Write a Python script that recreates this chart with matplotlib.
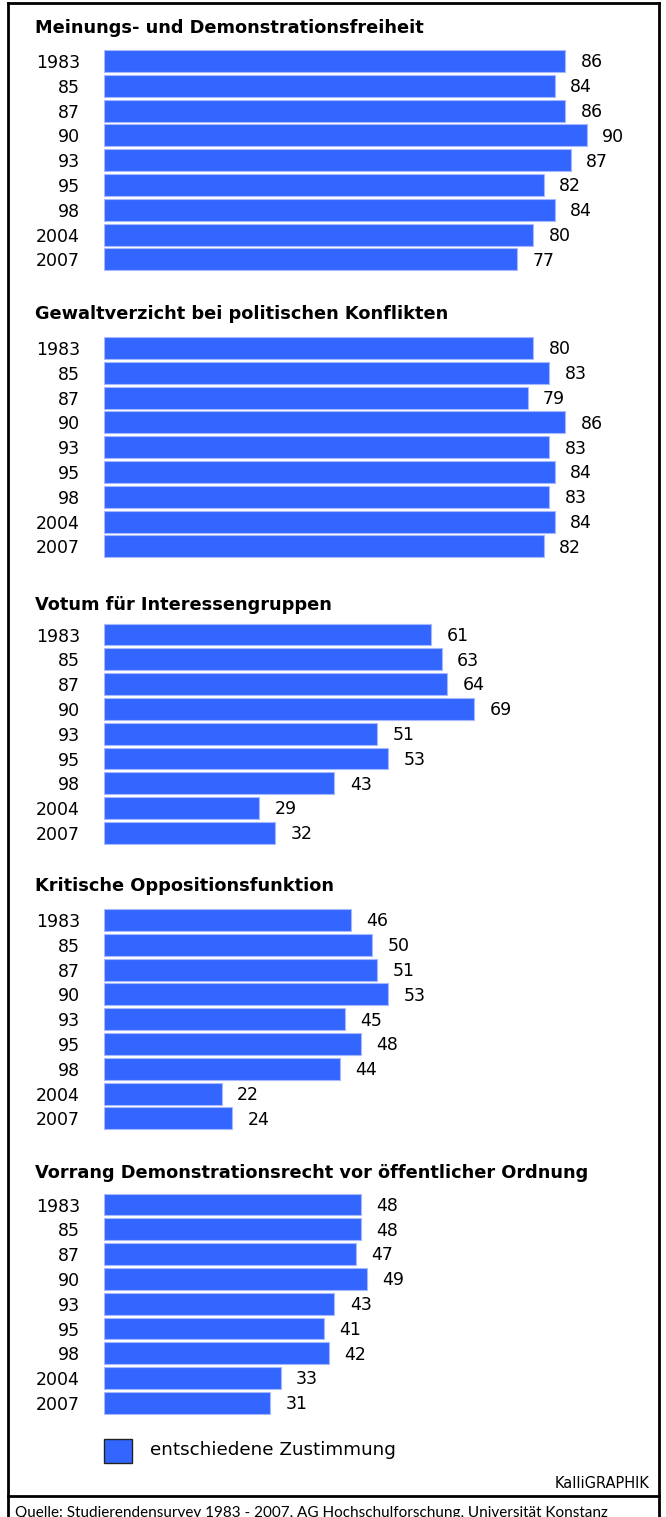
import matplotlib
matplotlib.use("Agg")
import matplotlib.pyplot as plt
from matplotlib.patches import Rectangle
from matplotlib.lines import Line2D

# Daten #############################################################################
jahre = ["1983", "85", "87", "90", "93", "95", "98", "2004", "2007"]

titel = [
    "Meinungs- und Demonstrationsfreiheit",
    "Gewaltverzicht bei politischen Konflikten",
    "Votum für Interessengruppen",
    "Kritische Oppositionsfunktion",
    "Vorrang Demonstrationsrecht vor öffentlicher Ordnung",
]

meinungsfreiheit = [86, 84, 86, 90, 87, 82, 84, 80, 77]
gewaltverzicht = [80, 83, 79, 86, 83, 84, 83, 84, 82]
interessengruppen = [61, 63, 64, 69, 51, 53, 43, 29, 32]
opposition = [46, 50, 51, 53, 45, 48, 44, 22, 24]
demonstrationsrecht = [48, 48, 47, 49, 43, 41, 42, 33, 31]

serien = [meinungsfreiheit, gewaltverzicht, interessengruppen, opposition, demonstrationsrecht]

legende = "entschiedene Zustimmung"
signatur = "KalliGRAPHIK"
quelle = "Quelle: Studierendensurvey 1983 - 2007, AG Hochschulforschung, Universität Konstanz"

# Layout (Pixel) ####################################################################
W, H = 666, 1517
BLAU = "#3366ff"
RAND = "#a8b8ff"
FONT = "DejaVu Sans"

erste_balken = [61, 348, 634.5, 920, 1204.5]   # Mitte des ersten Balkens
titel_y = [28, 314, 605, 886, 1173]
abstand = 24.8
x0, x1 = 103.5, 660
px_pro_einheit = 5.37


def fx(x):
    return x / W


def fy(y):
    return 1 - y / H


fig = plt.figure(figsize=(W / 100, H / 100), dpi=100)
fig.patch.set_facecolor("white")

for i, werte in enumerate(serien):
    top = erste_balken[i] - abstand / 2
    bottom = top + abstand * len(jahre)
    ax = fig.add_axes([fx(x0), fy(bottom), fx(x1) - fx(x0), (bottom - top) / H])
    ax.barh(range(len(jahre)), werte, height=0.88, color=BLAU, edgecolor=RAND, linewidth=0.8)
    ax.set_xlim(0, (x1 - x0) / px_pro_einheit)
    ax.set_ylim(len(jahre) - 0.5, -0.5)
    ax.set_yticks(range(len(jahre)))
    ax.set_yticklabels(jahre, fontsize=12.5, family=FONT)
    ax.tick_params(axis="y", length=0, pad=17)
    ax.set_xticks([])
    for s in ax.spines.values():
        s.set_visible(False)
    for j, v in enumerate(werte):
        ax.annotate(str(v), (v, j), xytext=(11, -1), textcoords="offset points",
                    ha="left", va="center", fontsize=12.5, family=FONT)
    fig.text(fx(35), fy(titel_y[i]), titel[i], ha="left", va="center",
             fontsize=12.8, fontweight="bold", family=FONT)

# Legende
fig.patches.append(Rectangle((fx(104), fy(1463)), fx(132) - fx(104), (1463 - 1439) / H,
                             transform=fig.transFigure, facecolor=BLAU, edgecolor="#222222",
                             linewidth=1))
fig.text(fx(150), fy(1450), legende, ha="left", va="center", fontsize=13.2, family=FONT)
fig.text(fx(649), fy(1483), signatur, ha="right", va="center", fontsize=10.5, family=FONT)

# Rahmen
lw = 2
fig.lines.append(Line2D([fx(7.5), fx(658.5)], [fy(3), fy(3)], transform=fig.transFigure,
                        color="black", linewidth=lw))
fig.lines.append(Line2D([fx(7.5), fx(7.5)], [fy(3), fy(H + 5)], transform=fig.transFigure,
                        color="black", linewidth=lw))
fig.lines.append(Line2D([fx(658.5), fx(658.5)], [fy(3), fy(H + 5)], transform=fig.transFigure,
                        color="black", linewidth=lw))
fig.lines.append(Line2D([fx(7.5), fx(658.5)], [fy(1496), fy(1496)], transform=fig.transFigure,
                        color="black", linewidth=lw))

fig.text(fx(15), fy(1506), quelle, ha="left", va="top", fontsize=11, family="Lato")

fig.savefig("out.png", dpi=100)
